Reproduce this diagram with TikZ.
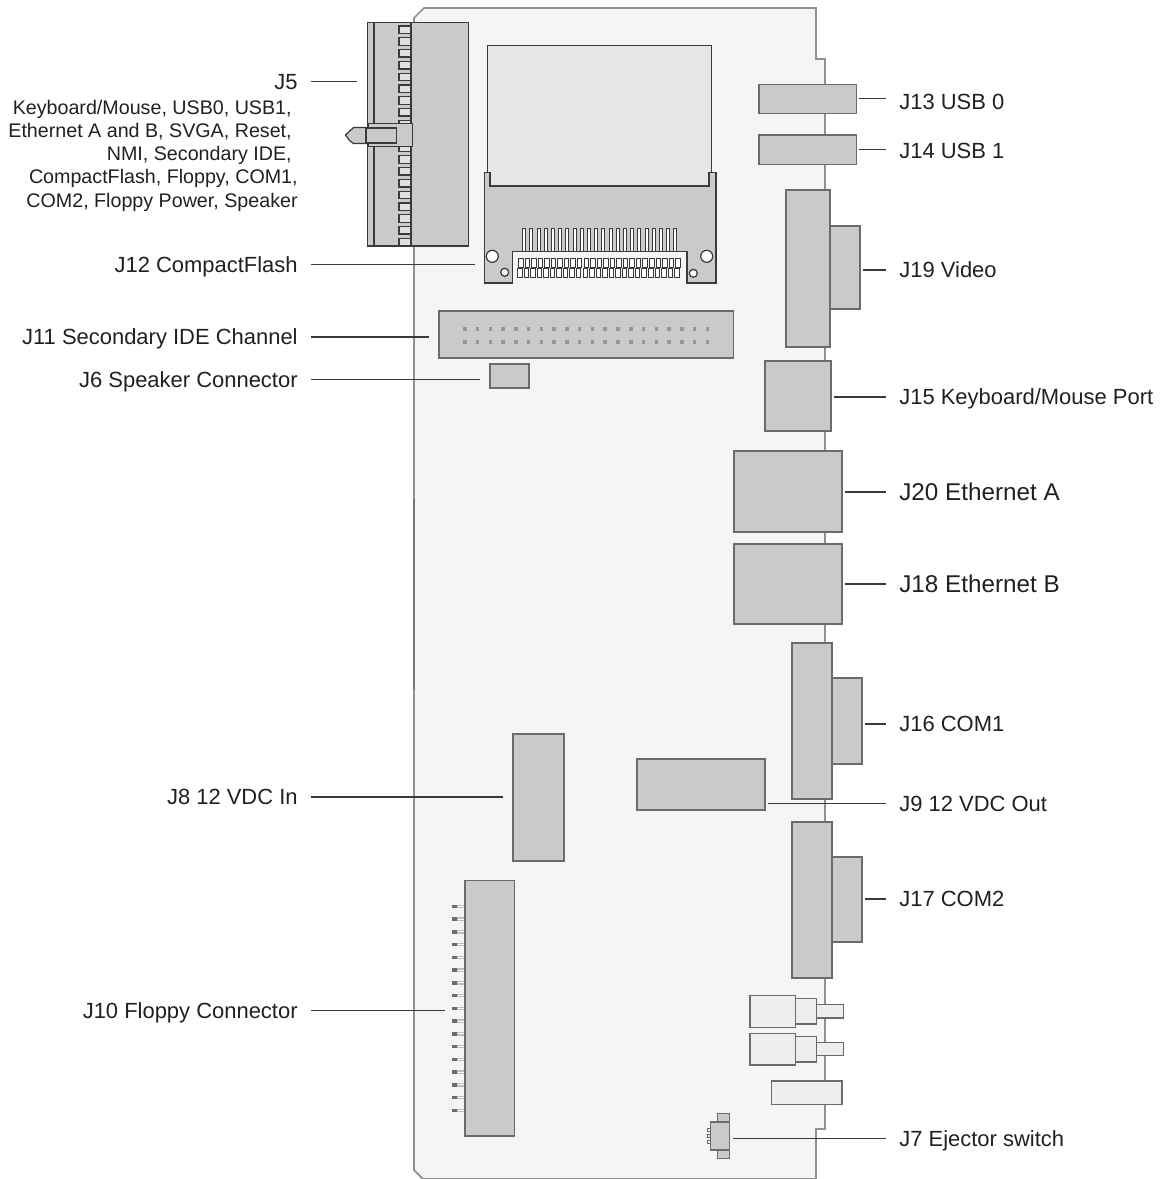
\documentclass[tikz,border=0pt]{standalone}
\usepackage{fontspec}
\setmainfont{Liberation Sans}
\usepackage{xcolor}
\definecolor{boardfill}{HTML}{F4F6F5}
\definecolor{boardline}{HTML}{8F9194}
\definecolor{boarddark}{HTML}{737578}
\definecolor{partfill}{HTML}{C9CACC}
\definecolor{partline}{HTML}{696B6E}
\definecolor{lightfill}{HTML}{EEEEEE}
\definecolor{cardfill}{HTML}{E5E6E7}
\definecolor{darkline}{HTML}{3A3A3C}
\definecolor{inktext}{HTML}{231F20}
\begin{document}
\begin{tikzpicture}[x=0.02cm, y=-0.02cm, every node/.style={font=\fontsize{12.5}{15}\selectfont, text=inktext}]
\tikzstyle{part}=[draw=partline, fill=partfill, line width=0.8pt, inner sep=0pt, outer sep=0pt]
\tikzstyle{lightpart}=[part, fill=lightfill]
\tikzstyle{darkpart}=[part, draw=darkline, line width=0.7pt]
\tikzstyle{lblr}=[anchor=west, inner ysep=0pt, inner xsep=0.27cm, text height=8.95pt, text depth=0pt]
\tikzstyle{lbll}=[anchor=east, inner ysep=0pt, inner xsep=0.26cm, text height=8.95pt, text depth=0pt]
\tikzstyle{lblbig}=[lblr, font=\fontsize{13.8}{16}\selectfont, text height=9.9pt]
\tikzstyle{lead}=[draw=darkline, line width=0.6pt]
\useasboundingbox (0,0) rectangle (1164,1179);
% board
\draw[draw=boardline, fill=boardfill, line width=1pt] (414,18) -- (424,8) -- (816,8) -- (816,59) -- (825,59) -- (825,1129) -- (816,1129) -- (816,1179) -- (423,1179) -- (414,1170) -- cycle;
\draw[draw=boarddark, line width=1pt] (414,499) -- (414,689);
% J5
\node[darkpart, minimum width=2.026cm, minimum height=4.47cm] (J5) at (418,134.25) {};
\draw[darkline, line width=0.7pt] (374,22.5) -- (374,246);
\foreach \i in {0,...,18} {
  \draw[darkpart, fill=lightfill!60!partfill] (399,{26+11.8*\i}) rectangle (411,{33.5+11.8*\i});
}
\draw[darkline, line width=0.9pt] (411,22.5) -- (411,246);
\draw[darkline, line width=0.7pt, fill=partfill] (366,127.5) -- (353.5,127.5) -- (345.5,135) -- (350,141) -- (353.5,143.5) -- (366,143.5) -- cycle;
\node[darkpart, minimum width=0.89cm, minimum height=0.46cm] (J5latch) at (390.25,135) {};
\draw[darkpart] (366,128) rectangle (396.5,143);
% J12
\node[darkpart, fill=cardfill, minimum width=4.48cm, minimum height=2.81cm] (J12card) at (599.25,115.75) {};
\draw[darkpart] (484.5,172.5) -- (490,172.5) -- (490,186) -- (709,186) -- (709,172.5) -- (716,172.5) -- (716,283) -- (687,283) -- (687,251.7) -- (512.5,251.7) -- (512.5,283) -- (484.5,283) -- cycle;
\coordinate (J12) at (484.5,264);
\foreach \i in {0,...,21} {
  \draw[draw=darkline, fill=white, line width=0.4pt] ({522.5+7.2*\i},228) rectangle ({525.5+7.2*\i},251.7);
}
\foreach \i in {0,...,24} {
  \draw[draw=darkline, fill=white, line width=0.55pt] ({518.5+6.55*\i},258) rectangle ({523+6.55*\i},267.3);
  \draw[draw=darkline, fill=white, line width=0.55pt] ({517.5+6.55*\i},268.5) rectangle ({522+6.55*\i},277.7);
}
\draw[darkpart, fill=white] (492.3,256.3) circle (6);
\draw[darkpart, fill=white] (504.7,272.3) circle (4);
\draw[darkpart, fill=white] (706.7,256.3) circle (6);
\draw[darkpart, fill=white] (693.3,273.3) circle (4);
% J11 and J6
\node[part, minimum width=5.886cm, minimum height=0.94cm] (J11) at (586.15,334.5) {};
\foreach \i in {0,...,19} {
  \fill[partline!70] ({463+12.77*\i},327) rectangle ({466.5+12.77*\i},331);
  \fill[partline!70] ({463+12.77*\i},339.7) rectangle ({466.5+12.77*\i},343.7);
}
\node[part, line width=1pt, minimum width=0.768cm, minimum height=0.48cm] (J6) at (509.5,376.3) {};
% right hand connectors
\node[part, minimum width=1.95cm, minimum height=0.58cm] (J13) at (807.85,98.8) {};
\node[part, minimum width=1.95cm, minimum height=0.586cm] (J14) at (807.85,149.6) {};
\node[part, minimum width=0.6cm, minimum height=1.66cm] (J19s) at (845,267.5) {};
\node[part, minimum width=0.88cm, minimum height=3.14cm] (J19) at (808,268.5) {};
\node[part, minimum width=1.32cm, minimum height=1.4cm] (J15) at (798,396) {};
\node[part, minimum width=2.16cm, minimum height=1.62cm] (J20) at (788,491.5) {};
\node[part, minimum width=2.16cm, minimum height=1.6cm] (J18) at (788,584) {};
\node[part, minimum width=0.6cm, minimum height=1.72cm] (J16s) at (847,721) {};
\node[part, minimum width=0.8cm, minimum height=3.12cm] (J16) at (812,721) {};
\node[part, minimum width=0.6cm, minimum height=1.7cm] (J17s) at (847,899.5) {};
\node[part, minimum width=0.8cm, minimum height=3.12cm] (J17) at (812,900) {};
\node[part, minimum width=2.56cm, minimum height=1.02cm] (J9) at (701,784.5) {};
\node[part, minimum width=1.02cm, minimum height=2.54cm] (J8) at (538.5,797.5) {};
% J10
\foreach \i in {0,...,16} {
  \fill[partline!45] (452,{904.5+12.75*\i}) rectangle (465,{908+12.75*\i});
  \draw[white, line width=0.3pt] (458,{906.2+12.75*\i}) -- (465,{906.2+12.75*\i});
  \fill[partline] (452,{904.5+12.75*\i}) rectangle (457,{908+12.75*\i});
}
\node[part, minimum width=0.986cm, minimum height=5.114cm] (J10) at (489.65,1008.2) {};
% bottom parts
\node[lightpart, minimum width=0.906cm, minimum height=0.64cm] (plugA) at (772.65,1011.3) {};
\node[lightpart, minimum width=0.42cm, minimum height=0.506cm] (plugAm) at (805.8,1011.3) {};
\node[lightpart, minimum width=0.548cm, minimum height=0.266cm] (plugAt) at (830,1011.3) {};
\node[lightpart, minimum width=0.906cm, minimum height=0.634cm] (plugB) at (772.65,1049.2) {};
\node[lightpart, minimum width=0.42cm, minimum height=0.514cm] (plugBm) at (805.8,1049.2) {};
\node[lightpart, minimum width=0.548cm, minimum height=0.268cm] (plugBt) at (830,1049) {};
\node[lightpart, minimum width=1.406cm, minimum height=0.466cm] (ledbar) at (806.85,1092.65) {};
% J7
\node[part, minimum width=0.24cm, minimum height=0.174cm] (J7a) at (723.3,1117.9) {};
\node[part, minimum width=0.24cm, minimum height=0.174cm] (J7b) at (723.3,1154.3) {};
\foreach \i in {0,1,2} {
  \draw[draw=partline, fill=lightfill, line width=0.5pt] (707.5,{1128.2+6.2*\i}) rectangle (710.3,{1131.2+6.2*\i});
}
\node[part, minimum width=0.38cm, minimum height=0.56cm] (J7) at (719.8,1136) {};
% labels left
\node[lbll] (lJ5) at (311,81.5) {J5};
\node[anchor=north east, inner sep=0pt, align=right, font=\fontsize{11.2}{13.25}\selectfont] (lJ5list) at (298,99.5) {Keyboard/Mouse, USB0, USB1,\rule{3.4pt}{0pt}\\Ethernet A and B, SVGA, Reset,\rule{3.4pt}{0pt}\\NMI, Secondary IDE,\rule{3.4pt}{0pt}\\CompactFlash, Floppy, COM1,\\COM2, Floppy Power, Speaker};
\node[lbll] (lJ12) at (311,264.5) {J12 CompactFlash};
\node[lbll] (lJ11) at (311,337) {J11 Secondary IDE Channel};
\node[lbll] (lJ6) at (311,379.7) {J6 Speaker Connector};
\node[lbll] (lJ8) at (311,797) {J8 12 VDC In};
\node[lbll] (lJ10) at (311,1010.7) {J10 Floppy Connector};
% labels right
\node[lblr] (lJ13) at (885.5,102) {J13 USB 0};
\node[lblr] (lJ14) at (885.5,151) {J14 USB 1};
\node[lblr] (lJ19) at (885.5,270) {J19 Video};
\node[lblr] (lJ15) at (885.5,397) {J15 Keyboard/Mouse Port};
\node[lblbig] (lJ20) at (885.5,492) {J20 Ethernet A};
\node[lblbig] (lJ18) at (885.5,584) {J18 Ethernet B};
\node[lblr] (lJ16) at (885.5,724) {J16 COM1};
\node[lblr] (lJ9) at (885.5,803.5) {J9 12 VDC Out};
\node[lblr] (lJ17) at (885.5,899) {J17 COM2};
\node[lblr] (lJ7) at (885.5,1138.7) {J7 Ejector switch};
% leaders
\draw[lead, shorten >=0.21cm] (lJ5.east) -- (lJ5.east -| J5.west);
\draw[lead, shorten >=0.19cm] (lJ12.east) -- (lJ12.east -| J12);
\draw[lead, shorten >=0.21cm] (lJ11.east) -- (lJ11.east -| J11.west);
\draw[lead, shorten >=0.21cm] (lJ6.east) -- (lJ6.east -| J6.west);
\draw[lead, shorten >=0.2cm] (lJ8.east) -- (lJ8.east -| J8.west);
\draw[lead, shorten >=0.4cm] (lJ10.east) -- (lJ10.east -| J10.west);
\draw[lead, shorten >=0.04cm] (lJ13.west |- J13) -- (J13.east);
\draw[lead, shorten >=0.04cm] (lJ14.west |- J14) -- (J14.east);
\draw[lead, shorten >=0.05cm] (lJ19.west) -- (lJ19.west -| J19s.east);
\draw[lead, shorten >=0.05cm] (lJ15.west) -- (lJ15.west -| J15.east);
\draw[lead, shorten >=0.05cm] (lJ20.west) -- (lJ20.west -| J20.east);
\draw[lead, shorten >=0.05cm] (lJ18.west) -- (lJ18.west -| J18.east);
\draw[lead, shorten >=0.06cm] (lJ16.west) -- (lJ16.west -| J16s.east);
\draw[lead, shorten >=0.06cm] (lJ9.west) -- (lJ9.west -| J9.east);
\draw[lead, shorten >=0.06cm] (lJ17.west) -- (lJ17.west -| J17s.east);
\draw[lead, shorten >=0.08cm] (lJ7.west) -- (lJ7.west -| J7.east);
\end{tikzpicture}
\end{document}
